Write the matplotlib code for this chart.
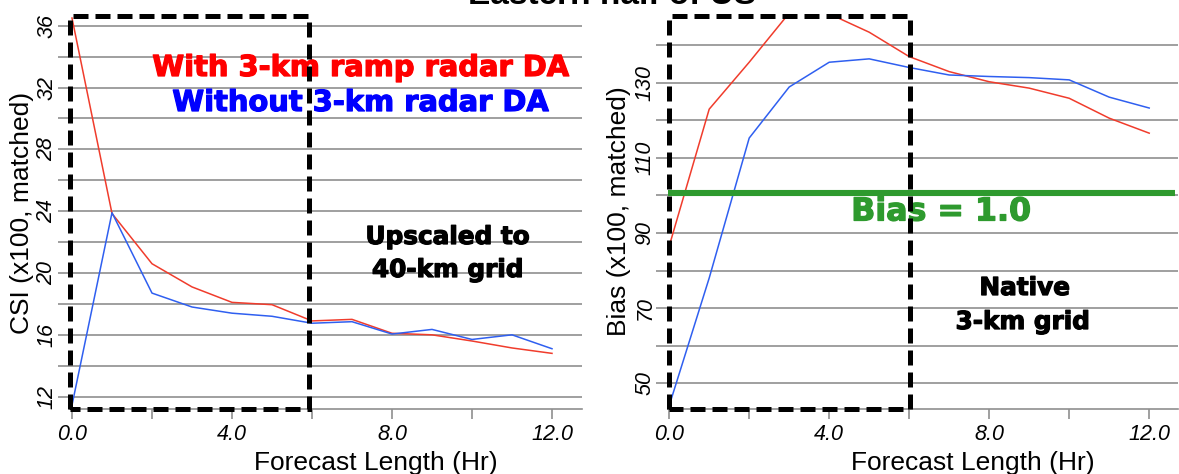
import matplotlib
matplotlib.use('Agg')
import matplotlib.pyplot as plt
import matplotlib.transforms as mtransforms
import matplotlib.patheffects as pe
from matplotlib.ticker import MultipleLocator, FixedLocator

# ---------------- data ----------------
hours = list(range(13))
csi_with = [36.5, 23.85, 20.6, 19.1, 18.1, 17.95, 16.9, 17.0, 16.1, 16.0, 15.6, 15.15, 14.8]
csi_without = [11.45, 23.9, 18.7, 17.8, 17.4, 17.2, 16.75, 16.85, 16.05, 16.35, 15.7, 16.0, 15.1]
bias_with = [86.5, 123.0, 135.5, 148.6, 148.4, 143.5, 137.0, 133.0, 130.3, 128.6, 125.9, 120.6, 116.6]
bias_without = [44.0, 78.0, 115.3, 128.9, 135.5, 136.4, 134.1, 132.1, 131.7, 131.4, 130.8, 126.2, 123.3]
bias_ref = 100.6

csi_ticks = [12, 16, 20, 24, 28, 32, 36]
bias_ticks = [50, 70, 90, 110, 130]
x_ticks = [0, 4, 8, 12]
x_ticklabels = ['0.0', '4.0', '8.0', '12.0']

title = 'Eastern half of US'
legend_with = 'With 3-km ramp radar DA'
legend_without = 'Without 3-km radar DA'
xlabel = 'Forecast Length (Hr)'
csi_label = 'CSI (x100, matched)'
bias_label = 'Bias (x100, matched)'

# ---------------- figure ----------------
W, H = 1179, 474
fig = plt.figure(figsize=(W / 100, H / 100), dpi=100)


def fx(x):
    return x / W


def fy(y):
    return 1 - y / H


axL = fig.add_axes([fx(70), 65 / H, 512 / W, 393.3 / H])
axR = fig.add_axes([fx(668), 65 / H, 510 / W, 393.3 / H])

RED_LINE = '#f03c2c'
BLUE_LINE = '#2f5ff0'
GRID = '#8f8f8f'
GREEN = '#2e9a2e'


def style(ax, xlim, ylim, yticks, yminor):
    ax.set_xlim(*xlim)
    ax.set_ylim(*ylim)
    for s in ['left', 'right', 'top']:
        ax.spines[s].set_visible(False)
    ax.spines['bottom'].set_color(GRID)
    ax.spines['bottom'].set_linewidth(1.2)
    ax.set_yticks(yticks, labels=[str(v) for v in yticks], rotation=90,
                  va='center', fontstyle='italic', family='Liberation Sans',
                  fontsize=15.5)
    ax.yaxis.set_minor_locator(MultipleLocator(yminor))
    ax.set_xticks(x_ticks, labels=x_ticklabels, fontstyle='italic',
                  family='Liberation Sans', fontsize=15.5)
    ax.xaxis.set_minor_locator(FixedLocator([2, 6, 10]))
    ax.grid(True, which='both', axis='y', color=GRID, lw=1.2)
    ax.tick_params(axis='y', which='both', length=8.6, width=1.2, color=GRID, pad=0.5)
    ax.tick_params(axis='x', which='both', length=7, width=1.2, color=GRID, pad=4)
    ax.set_axisbelow(True)


def box(ax, x0, x1):
    trans = mtransforms.blended_transform_factory(ax.transData, ax.transAxes)
    ax.plot([x0, x0, x1, x1, x0], [0, 1, 1, 0, 0], transform=trans,
            color='black', lw=3.6, dashes=(3, 1.4), clip_on=False, zorder=10,
            dash_joinstyle='miter', dash_capstyle='butt')


def heavy(ax, x, y, s, size, color='black'):
    ax.text(fx(x), fy(y), s, transform=fig.transFigure, ha='center', va='center',
            family='DejaVu Sans', weight='bold', fontsize=size, color=color,
            zorder=6, clip_on=False,
            path_effects=[pe.withStroke(linewidth=0.9, foreground=color)])


# left panel
style(axL, (-0.05, 12.75), (11.2, 36.65), csi_ticks, 2)
axL.plot(hours, csi_with, color=RED_LINE, lw=1.1, zorder=3)
axL.plot(hours, csi_without, color=BLUE_LINE, lw=1.1, zorder=3)
box(axL, -0.05, 5.93)

# right panel
style(axR, (-0.03, 12.72), (43.1, 147.9), bias_ticks, 10)
axR.hlines(bias_ref, -0.03, 12.64, color=GREEN, lw=4.4, zorder=4)
axR.plot(hours, bias_with, color=RED_LINE, lw=1.1, zorder=3)
axR.plot(hours, bias_without, color=BLUE_LINE, lw=1.1, zorder=3)
box(axR, 0.0, 6.03)

# texts
fig.text(fx(612), fy(3.5), title, ha='center', va='baseline',
         family='Liberation Sans', weight='bold', fontsize=24)
heavy(axL, 360, 68, legend_with, 20.8, '#ff0000')
heavy(axL, 360, 103, legend_without, 20.8, '#0000ff')
heavy(axL, 448, 237, 'Upscaled to', 17.8)
heavy(axL, 448, 270, '40-km grid', 17.8)
heavy(axR, 1025, 288, 'Native', 17.8)
heavy(axR, 1023, 322, '3-km grid', 17.8)
heavy(axR, 941, 212, 'Bias = 1.0', 22.8, GREEN)

fig.text(fx(22), fy(213), csi_label, rotation=90, ha='center', va='center',
         family='Liberation Sans', fontsize=19)
fig.text(fx(619), fy(211), bias_label, rotation=90, ha='center', va='center',
         family='Liberation Sans', fontsize=19)
fig.text(fx(376), fy(470), xlabel, ha='center', va='baseline',
         family='Liberation Sans', fontsize=19)
fig.text(fx(973), fy(470), xlabel, ha='center', va='baseline',
         family='Liberation Sans', fontsize=19)

fig.savefig('out.png', dpi=100)
